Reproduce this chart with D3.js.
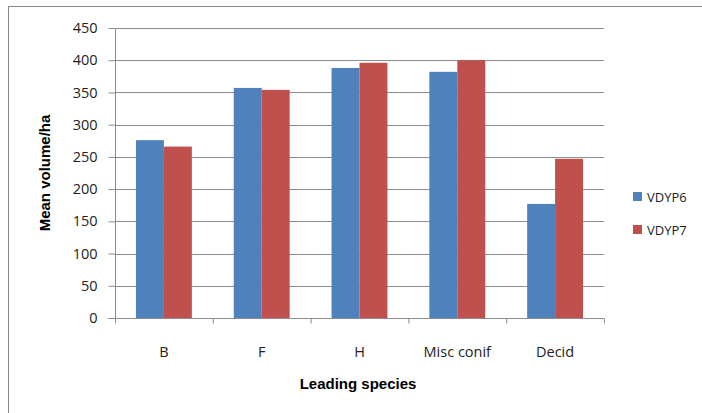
<!DOCTYPE html>
<html>
<head>
<meta charset="utf-8">
<script src="https://cdn.jsdelivr.net/npm/d3@7"></script>
<style>
  body { margin: 0; background: #fff; }
  svg { display: block; font-family: "Liberation Sans", Arial, sans-serif; }
</style>
</head>
<body>
<svg id="chart" width="702" height="413"></svg>
<script>
var categories = ["B", "F", "H", "Misc conif", "Decid"];
var seriesNames = ["VDYP6", "VDYP7"];
var vdyp6 = [276, 357, 388, 382, 177];
var vdyp7 = [266, 354, 396, 400, 247];
var yTicks = [0, 50, 100, 150, 200, 250, 300, 350, 400, 450];
var colors = ["#4f81bd", "#c0504d"];

var svg = d3.select("#chart");
// plot area edges (note: "top" is taken by window.top)
var plotL = 115, plotR = 604, plotT = 28, plotB = 318;

// outer frame
svg.append("rect")
  .attr("x", 8.5).attr("y", 6.5)
  .attr("width", 720).attr("height", 420)
  .attr("fill", "none").attr("stroke", "#888").attr("stroke-width", 1);

var x0 = d3.scaleBand().domain(categories).range([plotL, plotR]).paddingInner(0).paddingOuter(0);
var x1 = d3.scaleBand().domain(seriesNames).range([0, x0.bandwidth()]).paddingInner(0).paddingOuter(0.75);
var y = d3.scaleLinear().domain([0, 450]).range([plotB, plotT]);

// gridlines
svg.append("g").selectAll("line").data(yTicks.slice(1)).join("line")
  .attr("x1", plotL).attr("x2", plotR)
  .attr("y1", function(d) { return Math.round(y(d)) + 0.5; })
  .attr("y2", function(d) { return Math.round(y(d)) + 0.5; })
  .attr("stroke", "#8c8c8c").attr("stroke-width", 1);

// bars
var groups = svg.append("g").selectAll("g").data(categories).join("g")
  .attr("transform", function(d) { return "translate(" + x0(d) + ",0)"; });
groups.selectAll("rect").data(function(d, i) {
    return [{k: "VDYP6", v: vdyp6[i]}, {k: "VDYP7", v: vdyp7[i]}];
  }).join("rect")
  .attr("x", function(d) { return x1(d.k); })
  .attr("width", x1.bandwidth())
  .attr("y", function(d) { return y(d.v); })
  .attr("height", function(d) { return plotB - y(d.v); })
  .attr("fill", function(d, i) { return colors[i]; });

// y axis
var yAxis = d3.axisLeft(y).tickValues(yTicks).tickSize(7).tickPadding(11);
var gy = svg.append("g").attr("transform", "translate(" + (plotL + 0.5) + ",0)").call(yAxis);
gy.selectAll("text").attr("font-size", 14.5).attr("fill", "#222").attr("font-family", "'Open Sans', sans-serif");
gy.selectAll("line, path").attr("stroke", "#8c8c8c");
gy.select("path").attr("d", "M0," + plotT + "V" + plotB);

// x axis
var gx = svg.append("g").attr("transform", "translate(0," + (plotB + 0.5) + ")");
gx.append("line").attr("x1", plotL - 7).attr("x2", plotR).attr("stroke", "#8c8c8c");
gx.selectAll(".tk").data(categories.concat(["end"])).join("line").attr("class", "tk")
  .attr("x1", function(d, i) { return plotL + i * x0.bandwidth() + 0.5; })
  .attr("x2", function(d, i) { return plotL + i * x0.bandwidth() + 0.5; })
  .attr("y1", 0).attr("y2", 5).attr("stroke", "#8c8c8c");
gx.selectAll("text").data(categories).join("text")
  .attr("x", function(d) { return x0(d) + x0.bandwidth() / 2; })
  .attr("y", 38)
  .attr("text-anchor", "middle")
  .attr("font-size", 14.5).attr("fill", "#222")
  .attr("font-family", "'Open Sans', sans-serif")
  .text(function(d) { return d; });

// axis titles
svg.append("text")
  .attr("x", 358).attr("y", 389)
  .attr("text-anchor", "middle")
  .attr("font-size", 15).attr("font-weight", "bold")
  .attr("font-family", "'Liberation Sans Narrow', 'Liberation Sans', sans-serif")
  .text("Leading species");
svg.append("text")
  .attr("transform", "translate(50,173) rotate(-90)")
  .attr("text-anchor", "middle")
  .attr("font-size", 15).attr("font-weight", "bold")
  .attr("font-family", "'Liberation Sans Narrow', 'Liberation Sans', sans-serif")
  .text("Mean volume/ha");

// legend
var lg = svg.append("g").selectAll("g").data(seriesNames).join("g")
  .attr("transform", function(d, i) { return "translate(633," + (192 + i * 33) + ")"; });
lg.append("rect").attr("width", 9).attr("height", 9)
  .attr("fill", function(d, i) { return colors[i]; });
lg.append("text").attr("x", 14).attr("y", 9.5)
  .attr("font-size", 13).attr("fill", "#222")
  .attr("font-family", "'Open Sans', sans-serif")
  .text(function(d) { return d; });
</script>
</body>
</html>
